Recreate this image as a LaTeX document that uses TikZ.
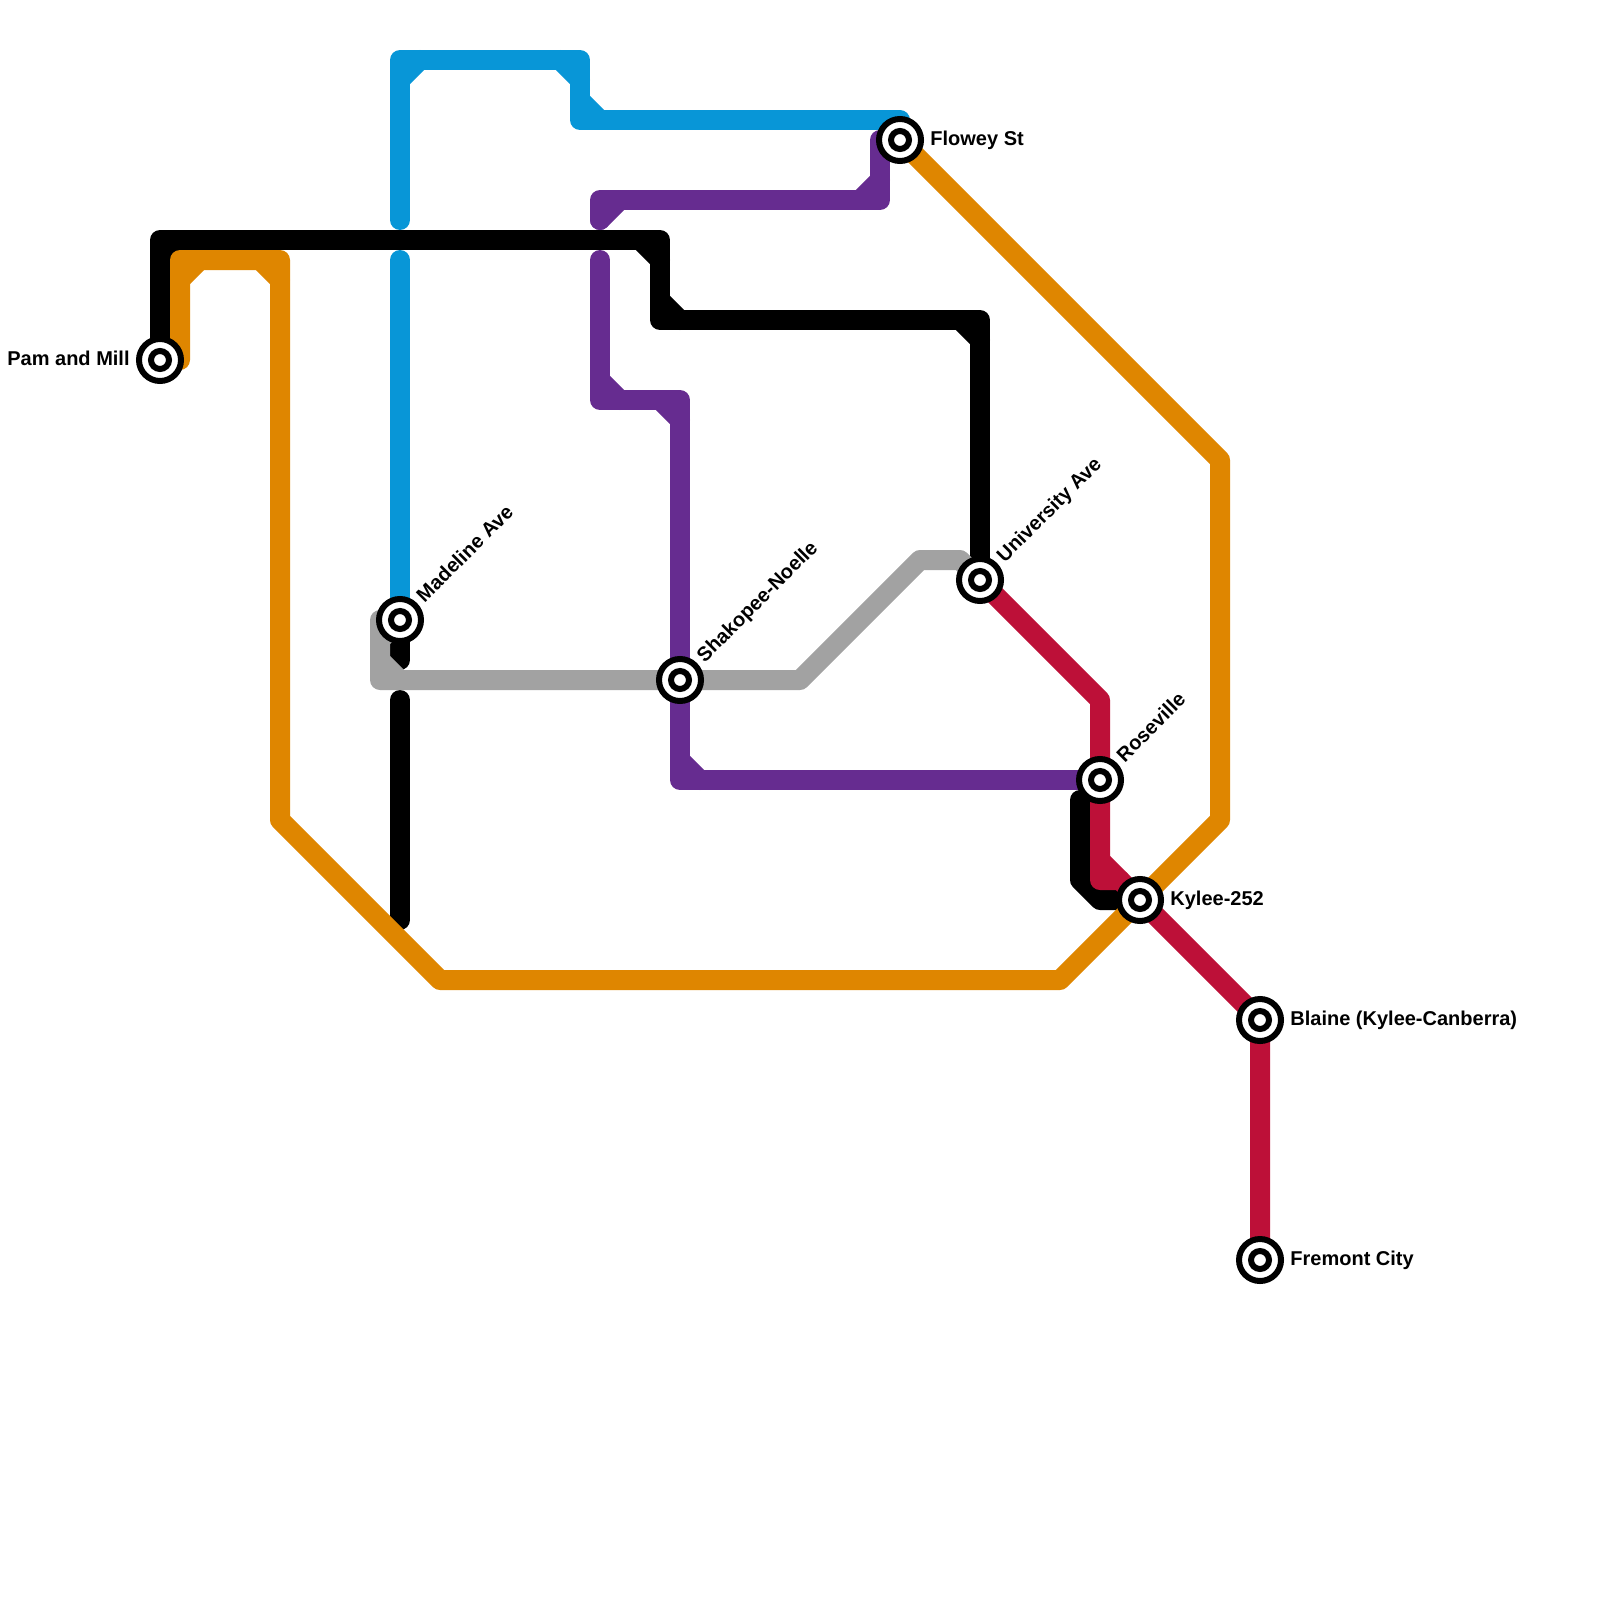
\documentclass[tikz,border=0pt]{standalone}
\usepackage{fontspec}
\setmainfont{Liberation Sans}
\definecolor{lineblue}{HTML}{0896D7}
\definecolor{lineorange}{HTML}{DF8600}
\definecolor{linepurple}{HTML}{662C90}
\definecolor{linegray}{HTML}{A2A2A2}
\definecolor{linered}{HTML}{BD1038}
\begin{document}
\begin{tikzpicture}[
    x=0.5pt, y=-0.5pt,
    every node/.style={font=\fontsize{10}{12}\selectfont\bfseries},
    metro/.style={line width=10pt, line join=round, line cap=round},
    station/.style={circle, draw=black, fill=white, line width=3pt, minimum size=21pt, inner sep=0pt,
        path picture={\draw[black, line width=3pt] (path picture bounding box.center) circle (4.5pt);}},
    stationlabel/.style={anchor=west, inner sep=0pt, text height=7.2pt, text depth=1.6pt},
    tiltlabel/.style={stationlabel, rotate=45},
]
\useasboundingbox (0,0) rectangle (1600,1600);

% Station positions
\coordinate (pam) at (160,360);
\coordinate (madeline) at (400,620);
\coordinate (shakopee) at (680,680);
\coordinate (flowey) at (900,140);
\coordinate (university) at (980,580);
\coordinate (roseville) at (1100,780);
\coordinate (kylee) at (1140,900);
\coordinate (blaine) at (1260,1020);
\coordinate (fremont) at (1260,1260);

% Black line
\draw[metro, black] (pam) -- (160,240) -- (660,240) -- (660,320) -- (980,320) -- (university);
\draw[metro, black] (160,260) -- (180,240) (640,240) -- (660,260) (660,300) -- (680,320) (960,320) -- (980,340);
\draw[metro, black] (madeline) -- (400,660);
\draw[metro, black] (400,700) -- (400,920);
\draw[metro, black] (1080,800) -- (1080,880) -- (1100,900) -- (kylee);

% Blue line
\draw[metro, lineblue] (400,220) -- (400,60) -- (580,60) -- (580,120) -- (900,120);
\draw[metro, lineblue] (400,80) -- (420,60) (560,60) -- (580,80) (580,100) -- (600,120);
\draw[metro, lineblue] (400,260) -- (madeline);

% Orange line
\draw[metro, lineorange] (180,360) -- (180,260) -- (280,260) -- (280,820) -- (440,980) -- (1060,980)
    -- (1220,820) -- (1220,460) -- (flowey);
\draw[metro, lineorange] (180,280) -- (200,260) (260,260) -- (280,280);

% Purple line
\draw[metro, linepurple] (600,220) -- (600,200) -- (880,200) -- (880,140);
\draw[metro, linepurple] (600,220) -- (620,200) (860,200) -- (880,180);
\draw[metro, linepurple] (600,260) -- (600,400) -- (680,400) -- (680,780) -- (roseville);
\draw[metro, linepurple] (600,380) -- (620,400) (660,400) -- (680,420) (680,760) -- (700,780);

% Gray line
\draw[metro, linegray] (madeline) -- (380,620) -- (380,680) -- (800,680) -- (920,560) -- (960,560) -- (university);
\draw[metro, linegray] (380,640) -- (400,620) (380,660) -- (400,680);

% Red line
\draw[metro, linered] (university) -- (1100,700) -- (1100,880) -- (1120,880) -- (blaine) -- (fremont);
\draw[metro, linered] (1100,860) -- (1120,880);

% Stations
\node[station] (pamstop) at (pam) {};
\node[station] (madelinestop) at (madeline) {};
\node[station] (shakopeestop) at (shakopee) {};
\node[station] (floweystop) at (flowey) {};
\node[station] (universitystop) at (university) {};
\node[station] (rosevillestop) at (roseville) {};
\node[station] (kyleestop) at (kylee) {};
\node[station] (blainestop) at (blaine) {};
\node[station] (fremontstop) at (fremont) {};

% Station labels
\node[stationlabel, anchor=east] (pamlabel) at (130,359.5) {Pam and Mill};
\node[tiltlabel] (madelinelabel) at (420.5,599.5) {Madeline Ave};
\node[tiltlabel] (shakopeelabel) at (700.5,659.5) {Shakopee-Noelle};
\node[stationlabel] (floweylabel) at (930,139.5) {Flowey St};
\node[tiltlabel] (universitylabel) at (1000.5,559.5) {University Ave};
\node[tiltlabel] (rosevillelabel) at (1120.5,759.5) {Roseville};
\node[stationlabel] (kyleelabel) at (1170,899.5) {Kylee-252};
\node[stationlabel] (blainelabel) at (1290,1019.5) {Blaine (Kylee-Canberra)};
\node[stationlabel] (fremontlabel) at (1290,1259.5) {Fremont City};

\end{tikzpicture}
\end{document}
